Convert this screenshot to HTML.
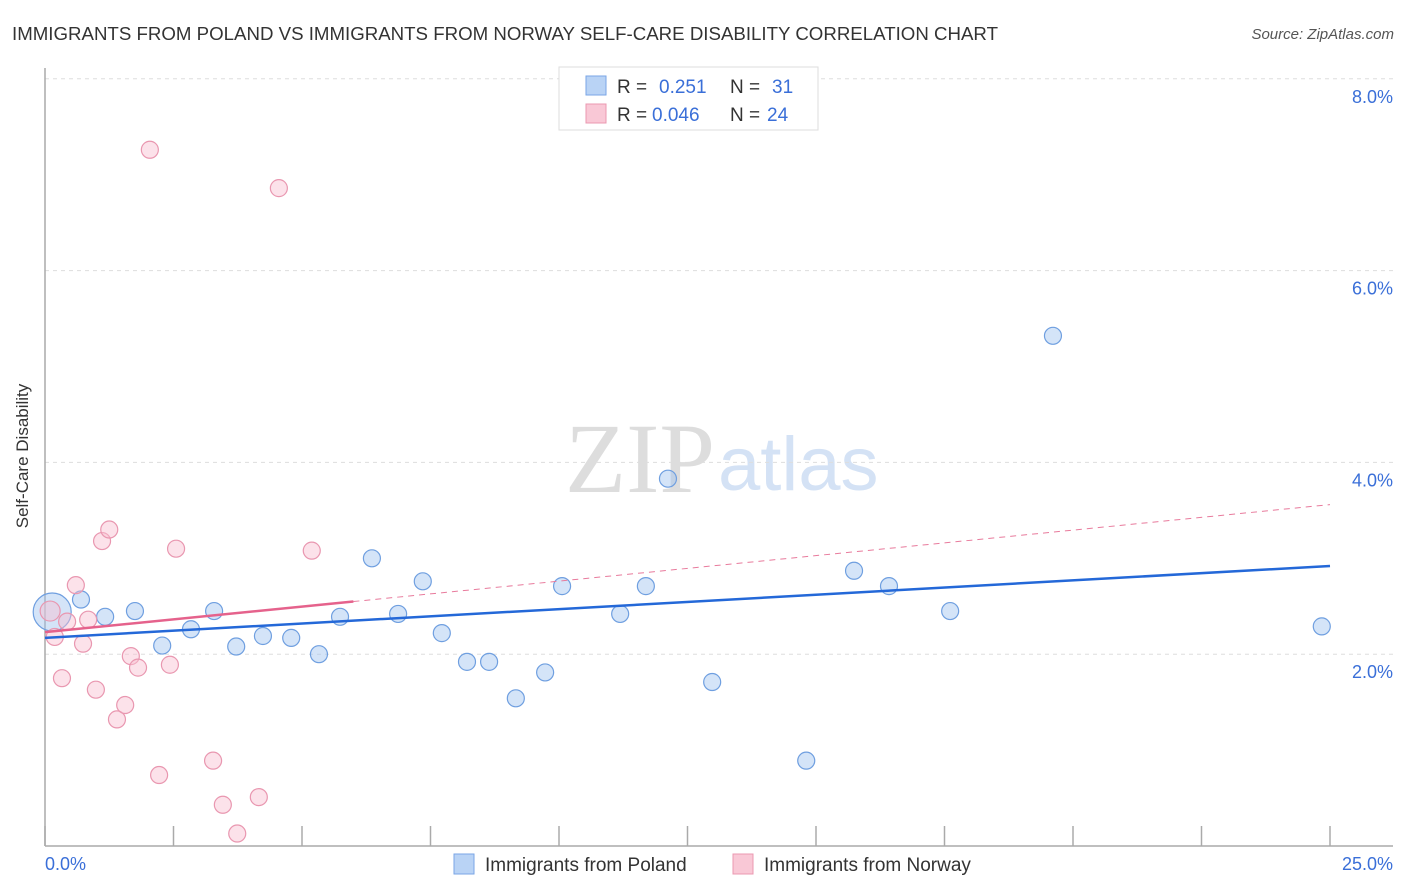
<!DOCTYPE html>
<html><head><meta charset="utf-8"><style>
body{margin:0;background:#fff;font-family:"Liberation Sans",sans-serif;}
svg{display:block}
</style></head><body>
<svg id="chart" width="1406" height="892" xmlns="http://www.w3.org/2000/svg">
<text x="12" y="40" font-size="18" fill="#333" textLength="986" lengthAdjust="spacingAndGlyphs">IMMIGRANTS FROM POLAND VS IMMIGRANTS FROM NORWAY SELF-CARE DISABILITY CORRELATION CHART</text>
<text x="1394" y="39" font-size="15" fill="#555" font-style="italic" text-anchor="end">Source: ZipAtlas.com</text>
<text x="715" y="492" font-size="100" fill="#ddd" text-anchor="end" font-family="Liberation Serif,serif">ZIP</text>
<text x="718" y="490" font-size="76" fill="#d4e2f5">atlas</text>
<g id="grid"></g>
<line x1="45" y1="68" x2="45" y2="846" stroke="#aaa" stroke-width="1.5"/>
<line x1="45" y1="846" x2="1393" y2="846" stroke="#aaa" stroke-width="1.5"/>
<g id="xticks"></g>
<text x="28" y="456" font-size="17" fill="#333" text-anchor="middle" transform="rotate(-90 28 456)">Self-Care Disability</text>
<text x="45" y="870" font-size="18" fill="#3a6fd8">0.0%</text>
<text x="1393" y="870" font-size="18" fill="#3a6fd8" text-anchor="end">25.0%</text>
<g id="pts"></g>
<g id="lines"></g>
<g>
<rect x="559" y="67" width="259" height="63" fill="#fff" stroke="#ddd"/>
<rect x="586" y="76" width="20" height="19" fill="#b9d3f5" stroke="#7aa6e6"/>
<rect x="586" y="104" width="20" height="19" fill="#f9c8d6" stroke="#eb98b0"/>
<text x="617" y="93" font-size="19" fill="#333">R = <tspan x="659" fill="#3a6fd8">0.251</tspan></text>
<text x="730" y="93" font-size="19" fill="#333">N = <tspan x="772" fill="#3a6fd8">31</tspan></text>
<text x="617" y="121" font-size="19" fill="#333">R = <tspan x="652" fill="#3a6fd8">0.046</tspan></text>
<text x="730" y="121" font-size="19" fill="#333">N = <tspan x="767" fill="#3a6fd8">24</tspan></text>
</g>
<g>
<rect x="454" y="854" width="20" height="20" fill="#b9d3f5" stroke="#7aa6e6"/>
<text x="485" y="871" font-size="19" fill="#333">Immigrants from Poland</text>
</g>
<g>
<rect x="733" y="854" width="20" height="20" fill="#f9c8d6" stroke="#eb98b0"/>
<text x="764" y="871" font-size="19" fill="#333">Immigrants from Norway</text>
</g>
</svg>
<script>
const yTicks=[2,4,6,8];
const yTickLabels=["2.0%","4.0%","6.0%","8.0%"];
const xTicks=[0,2.5,5,7.5,10,12.5,15,17.5,20,22.5,25];
const polandX=[0.14,0.70,1.17,1.75,2.28,2.84,3.29,3.72,4.24,4.79,5.33,5.74,6.36,6.87,7.35,7.72,8.21,8.64,9.16,9.73,10.06,11.19,11.69,12.12,12.98,14.81,15.74,16.42,17.61,19.61,24.84];
const polandY=[2.44,2.57,2.39,2.45,2.09,2.26,2.45,2.08,2.19,2.17,2.00,2.39,3.00,2.42,2.76,2.22,1.92,1.92,1.54,1.81,2.71,2.42,2.71,3.83,1.71,0.89,2.87,2.71,2.45,5.32,2.29];
const norwayX=[0.10,0.19,0.33,0.43,0.60,0.74,0.84,0.99,1.11,1.25,1.40,1.56,1.67,1.81,2.04,2.22,2.43,2.55,3.27,3.46,3.74,4.16,4.55,5.19];
const norwayY=[2.45,2.18,1.75,2.34,2.72,2.11,2.36,1.63,3.18,3.30,1.32,1.47,1.98,1.86,7.26,0.74,1.89,3.10,0.89,0.43,0.13,0.51,6.86,3.08];
const polandTrend=[2.17,2.92];
const norwayTrend=[2.23,3.56];
const norwaySolidEnd=6.0;
const NS="http://www.w3.org/2000/svg";
const xs=v=>45+v*1285/25;
const ys=v=>846-v*95.9;
function mk(t,a,p){const e=document.createElementNS(NS,t);for(const k in a)e.setAttribute(k,a[k]);p.appendChild(e);return e;}
const grid=document.getElementById('grid');
yTicks.forEach((t,i)=>{
 const l=mk('line',{x1:45,x2:1393,y1:ys(t),y2:ys(t),stroke:'#ddd','stroke-dasharray':'4,4'},grid);
 
 
 const tx=mk('text',{x:1393,y:ys(t)+24,'font-size':18,fill:'#3a6fd8','text-anchor':'end'},grid);
 tx.textContent=yTickLabels[i];
 
 
});
const xt=document.getElementById('xticks');
xTicks.forEach(t=>{
 const l=mk('line',{x1:xs(t),x2:xs(t),y1:826,y2:846,stroke:'#aaa','stroke-width':1.5},xt);
 
 
});
const pts=document.getElementById('pts');
polandX.forEach((x,i)=>{
 const c=mk('circle',{cx:xs(x),cy:ys(polandY[i]),r:i==0?19:8.5,fill:'rgba(160,196,240,0.45)',stroke:'#6f9fe0','stroke-width':1.2},pts);
 
 
});
norwayX.forEach((x,i)=>{
 const c=mk('circle',{cx:xs(x),cy:ys(norwayY[i]),r:i==0?10:8.5,fill:'rgba(248,190,208,0.45)',stroke:'#e997b0','stroke-width':1.2},pts);
 
 
});
const ln=document.getElementById('lines');
const nAt=x=>norwayTrend[0]+(norwayTrend[1]-norwayTrend[0])*x/25;
let d=mk('line',{x1:xs(norwaySolidEnd),y1:ys(nAt(norwaySolidEnd)),x2:xs(25),y2:ys(norwayTrend[1]),stroke:'#e87a9c','stroke-width':1,'stroke-dasharray':'6,5'},ln);


let s=mk('line',{x1:xs(0),y1:ys(norwayTrend[0]),x2:xs(norwaySolidEnd),y2:ys(nAt(norwaySolidEnd)),stroke:'#e5628c','stroke-width':2.5},ln);


let b=mk('line',{x1:xs(0),y1:ys(polandTrend[0]),x2:xs(25),y2:ys(polandTrend[1]),stroke:'#2468d8','stroke-width':2.5},ln);


</script>
</body></html>
